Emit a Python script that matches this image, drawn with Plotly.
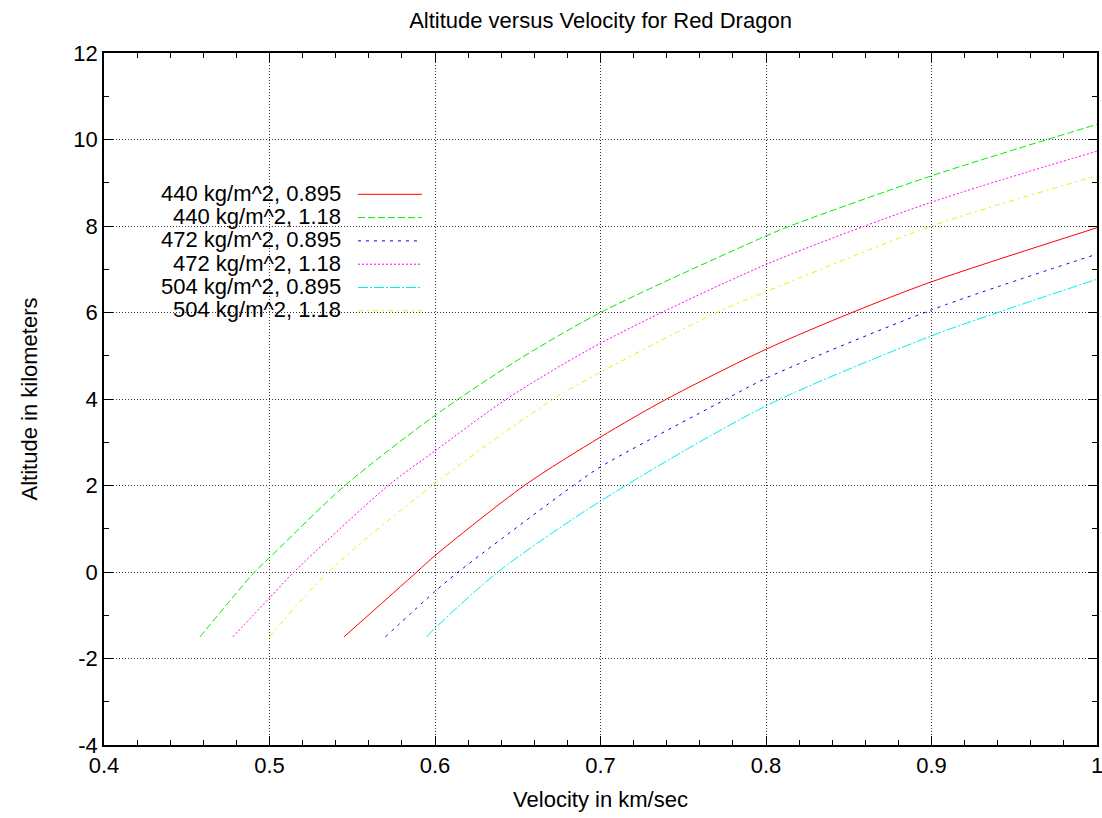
import plotly.graph_objects as go

# ---- data ----
v_440_0895 = [0.545, 0.589, 0.6, 0.654, 0.7, 0.74, 0.8, 0.852, 0.9, 1.0]
h_440_0895 = [-1.5, 0.0, 0.38, 2.0, 3.12, 4.0, 5.15, 6.0, 6.71, 7.96]

v_440_118 = [0.458, 0.491, 0.5, 0.5456, 0.6, 0.65, 0.7, 0.8, 0.8145, 0.9, 1.0]
h_440_118 = [-1.5, 0.0, 0.33, 2.0, 3.62, 4.9, 6.0, 7.77, 8.0, 9.16, 10.35]

v_472_0895 = [0.570, 0.6, 0.614, 0.6836, 0.7, 0.776, 0.8, 0.9, 1.0]
h_472_0895 = [-1.5, -0.45, 0.0, 2.0, 2.43, 4.0, 4.48, 6.06, 7.35]

v_472_118 = [0.4778, 0.5, 0.5148, 0.5718, 0.6, 0.6433, 0.7, 0.8, 0.9, 1.0]
h_472_118 = [-1.5, -0.6, 0.0, 2.0, 2.8, 4.0, 5.29, 7.11, 8.55, 9.73]

v_504_0895 = [0.595, 0.6, 0.638, 0.7, 0.8, 0.9, 0.94, 1.0]
h_504_0895 = [-1.5, -1.3, 0.0, 1.64, 3.84, 5.46, 6.0, 6.77]

v_504_118 = [0.4999, 0.5355, 0.6, 0.6715, 0.7, 0.7702, 0.8, 0.9, 1.0]
h_504_118 = [-1.5, 0.0, 2.05, 4.0, 4.62, 6.0, 6.48, 8.0, 9.16]

series_names = ["440 kg/m^2, 0.895", "440 kg/m^2, 1.18", "472 kg/m^2, 0.895",
                "472 kg/m^2, 1.18", "504 kg/m^2, 0.895", "504 kg/m^2, 1.18"]
series_x = [v_440_0895, v_440_118, v_472_0895, v_472_118, v_504_0895, v_504_118]
series_y = [h_440_0895, h_440_118, h_472_0895, h_472_118, h_504_0895, h_504_118]

x_ticks = [0.4, 0.5, 0.6, 0.7, 0.8, 0.9, 1.0]
x_ticklabels = ["0.4", "0.5", "0.6", "0.7", "0.8", "0.9", "1"]
y_ticks = [-4, -2, 0, 2, 4, 6, 8, 10, 12]
y_ticklabels = ["-4", "-2", "0", "2", "4", "6", "8", "10", "12"]

# ---- styles ----
colors = ["#ff0000", "#00ee00", "#0000ff", "#ff00ff", "#00eeee", "#eeee00"]
dashes = ["solid", "7px,3px", "3px,5px", "2px,2px", "10px,2px,2px,2px", "5px,4px,2px,4px"]

FONT = "Liberation Sans, Arial, Helvetica, sans-serif"
W, H = 1102, 818
L, R, T, B = 104, 5, 53, 73
PW, PH = W - L - R, H - T - B

fig = go.Figure()
for name, xs, ys, c, d in zip(series_names, series_x, series_y, colors, dashes):
    fig.add_trace(go.Scatter(x=xs, y=ys, mode="lines", name=name,
                             line=dict(color=c, width=1, dash=d, shape="spline", smoothing=0.8)))

# custom gnuplot-style key: text on the left, sample line on the right
key_text_right = 343
key_line_x0, key_line_x1 = 358, 422
key_row0, key_row_step = 194.3, 23.3
shapes = []
annotations = []
for i, (name, c, d) in enumerate(zip(series_names, colors, dashes)):
    py = key_row0 + i * key_row_step
    yp = (H - B - py) / PH
    annotations.append(dict(xref="paper", yref="paper", x=(key_text_right - L) / PW, y=yp + 0.0015,
                            xanchor="right", yanchor="middle", text=name, showarrow=False,
                            font=dict(family=FONT, size=22, color="black")))
    shapes.append(dict(type="line", xref="paper", yref="paper",
                       x0=(key_line_x0 - L) / PW, x1=(key_line_x1 - L) / PW, y0=yp, y1=yp,
                       line=dict(color=c, width=1, dash=d)))

axis_common = dict(
    showline=True, linecolor="black", linewidth=1.5, mirror="allticks",
    ticks="inside", ticklen=9, tickwidth=1, tickcolor="black",
    showgrid=True, gridcolor="#333333", gridwidth=1, griddash="1px,2px",
    zeroline=False, automargin=False, ticklabeloverflow="allow",
    tickfont=dict(family=FONT, size=22, color="black"),
)

fig.update_xaxes(range=[0.4, 1.0], tickmode="array", tickvals=x_ticks, ticktext=x_ticklabels,
                 minor=dict(dtick=0.02, ticks="inside", ticklen=5, tickcolor="black", showgrid=False),
                 title=dict(text="Velocity in km/sec", standoff=14, font=dict(family=FONT, size=22)),
                 **axis_common)
fig.update_yaxes(range=[-4, 12], tickmode="array", tickvals=y_ticks, ticktext=y_ticklabels,
                 minor=dict(dtick=1, ticks="inside", ticklen=5, tickcolor="black", showgrid=False),
                 title=dict(text="Altitude in kilometers", standoff=30, font=dict(family=FONT, size=22)),
                 **axis_common)

fig.update_layout(
    width=W, height=H, margin=dict(l=L, r=R, t=T, b=B, autoexpand=False),
    plot_bgcolor="white", paper_bgcolor="white", showlegend=False,
    font=dict(family=FONT, size=22, color="black"),
    title=dict(text="Altitude versus Velocity for Red Dragon", x=0.5, xref="paper",
               y=1 - 20 / H, yref="container", yanchor="middle",
               font=dict(family=FONT, size=22, color="black")),
    shapes=shapes, annotations=annotations,
)

fig.write_html("out.html")
